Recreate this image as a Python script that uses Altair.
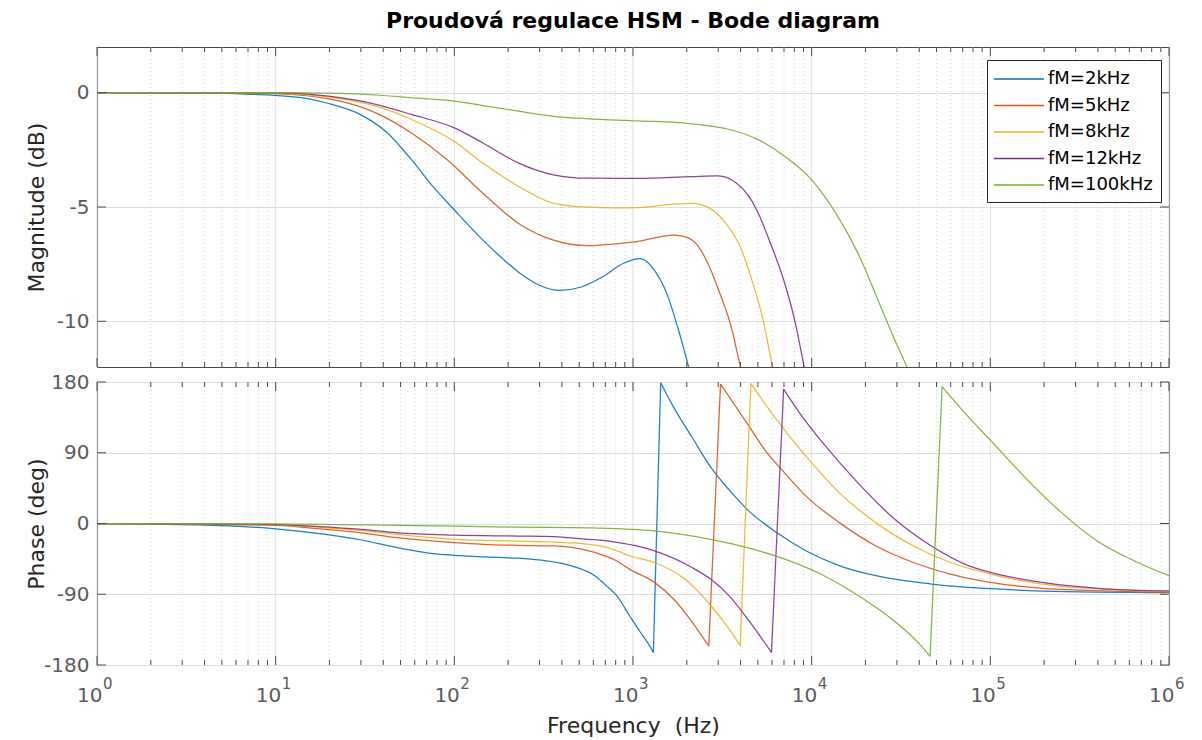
import altair as alt
import pandas as pd

SERIES = ["fM=2kHz", "fM=5kHz", "fM=8kHz", "fM=12kHz", "fM=100kHz"]
COLORS = ["#0072BD", "#D95319", "#EDB120", "#7E2F8E", "#77AC30"]

# ---------------- Magnitude (log10 f [Hz], dB) ----------------
MAG_LOGF_2K = [0, 0.5, 0.8, 1.0, 1.2, 1.28, 1.48, 1.62, 1.76, 1.88, 2.0, 2.16, 2.28, 2.36, 2.47, 2.59, 2.71, 2.83, 2.95, 3.04, 3.12, 3.19, 3.25, 3.31, 3.37]
MAG_DB_2K = [0, -0.01, -0.05, -0.12, -0.29, -0.44, -0.98, -1.72, -2.93, -4.1, -5.13, -6.45, -7.33, -7.85, -8.4, -8.65, -8.5, -8.05, -7.45, -7.26, -7.77, -8.8, -10.26, -11.95, -13.8]

MAG_LOGF_5K = [0, 0.8, 1.0, 1.36, 1.56, 1.76, 1.96, 2.16, 2.36, 2.555, 2.75, 2.814, 3.02, 3.227, 3.29, 3.36, 3.42, 3.48, 3.55, 3.60, 3.66]
MAG_DB_5K = [0, -0.01, -0.04, -0.37, -0.88, -1.76, -2.93, -4.4, -5.72, -6.45, -6.69, -6.67, -6.52, -6.23, -6.3, -6.67, -7.48, -8.65, -10.26, -11.95, -13.8]

MAG_LOGF_8K = [0, 1.0, 1.36, 1.56, 1.76, 2.0, 2.16, 2.36, 2.555, 2.75, 2.91, 3.02, 3.227, 3.33, 3.43, 3.52, 3.60, 3.66, 3.72, 3.78, 3.84]
MAG_DB_8K = [0, -0.03, -0.26, -0.59, -1.17, -2.13, -3.08, -4.1, -4.84, -5.01, -5.04, -5.03, -4.87, -4.84, -5.06, -5.72, -6.74, -8.06, -9.68, -11.95, -14.3]

MAG_LOGF_12K = [0, 1.0, 1.36, 1.56, 1.76, 2.0, 2.16, 2.36, 2.555, 2.75, 3.03, 3.33, 3.475, 3.58, 3.65, 3.71, 3.77, 3.85, 3.91, 3.957, 4.01]
MAG_DB_12K = [0, -0.01, -0.22, -0.51, -0.95, -1.54, -2.2, -3.08, -3.59, -3.74, -3.75, -3.67, -3.64, -3.96, -4.55, -5.43, -6.6, -8.36, -10.12, -11.95, -13.9]

MAG_LOGF_100K = [0, 1.0, 1.36, 1.56, 1.76, 2.0, 2.16, 2.36, 2.555, 2.75, 3.03, 3.33, 3.54, 3.70, 3.85, 4.0, 4.136, 4.26, 4.38, 4.467, 4.53, 4.59]
MAG_DB_100K = [0, 0, -0.03, -0.1, -0.22, -0.37, -0.56, -0.81, -1.03, -1.14, -1.23, -1.36, -1.61, -2.05, -2.79, -3.81, -5.28, -7.04, -9.24, -10.85, -11.95, -13.1]

# ---------------- Phase (log10 f, deg), before (A) and after (B) the wrap ----------------
PH_LOGF_2K_A = [0, 0.56, 1.0, 1.28, 1.48, 1.68, 1.88, 2.0, 2.16, 2.355, 2.515, 2.655, 2.79, 2.85, 2.91, 2.98, 3.04, 3.08, 3.114]
PH_DEG_2K_A = [0, -1.7, -6.7, -13.9, -21, -30.7, -38.3, -40.4, -42.5, -44.2, -47.5, -53.8, -67, -79, -92, -117, -138, -151, -164]
PH_LOGF_2K_B = [3.155, 3.227, 3.33, 3.434, 3.537, 3.64, 3.806, 3.97, 4.157, 4.36, 4.67, 5.0, 5.29, 6.0]
PH_DEG_2K_B = [179, 148, 110, 72, 43, 17.7, -11.8, -35, -53.8, -66.4, -77, -83, -86, -88]

PH_LOGF_5K_A = [0, 0.5, 1.0, 1.28, 1.48, 1.68, 2.0, 2.16, 2.355, 2.555, 2.753, 2.814, 2.912, 2.98, 3.12, 3.227, 3.33, 3.424]
PH_DEG_5K_A = [0, -0.8, -2.5, -7.6, -11.8, -18.1, -24.4, -26.5, -27.8, -28.6, -34.9, -39, -48, -58, -74.9, -96, -125, -156]
PH_LOGF_5K_B = [3.49, 3.64, 3.74, 3.85, 3.97, 4.157, 4.36, 4.57, 4.777, 5.0, 5.29, 6.0]
PH_DEG_5K_B = [177.5, 127, 93, 64, 34.5, 0.8, -28.6, -49.6, -64.3, -74.9, -82.4, -87.5]

PH_LOGF_8K_A = [0, 0.5, 1.0, 1.28, 1.48, 1.68, 2.0, 2.355, 2.555, 2.753, 2.814, 2.912, 2.98, 3.12, 3.29, 3.434, 3.537, 3.6]
PH_DEG_8K_A = [0, -0.6, -1.7, -5.5, -8.8, -13.9, -20.2, -22.3, -23.6, -26.5, -28.6, -34.9, -41, -49.6, -70.7, -104, -134, -155]
PH_LOGF_8K_B = [3.66, 3.74, 3.85, 3.97, 4.157, 4.36, 4.57, 4.777, 5.0, 5.29, 5.6, 6.0]
PH_DEG_8K_B = [178, 152, 118.5, 85, 38.7, 0.8, -28.6, -49.6, -64.3, -77, -83, -86.6]

PH_LOGF_12K_A = [0, 0.5, 1.0, 1.28, 1.48, 1.68, 2.0, 2.355, 2.555, 2.753, 2.814, 2.912, 3.02, 3.12, 3.33, 3.434, 3.537, 3.64, 3.72, 3.775]
PH_DEG_12K_A = [0, -0.4, -1.3, -4.2, -7.6, -11.8, -14.7, -16, -16.8, -20.2, -21, -24, -28.6, -34.9, -56, -70.7, -91.7, -121, -146, -164]
PH_LOGF_12K_B = [3.843, 3.95, 4.05, 4.26, 4.467, 4.67, 4.88, 5.0, 5.29, 5.6, 6.0]
PH_DEG_12K_B = [171, 135, 106, 51.3, 5, -28.6, -53.8, -62.2, -74.9, -82.4, -85.8]

PH_LOGF_100K_A = [0, 1.0, 1.48, 2.0, 2.355, 2.753, 3.09, 3.434, 3.64, 3.85, 4.05, 4.26, 4.467, 4.59, 4.663]
PH_DEG_100K_A = [0, -0.4, -1.7, -3.4, -4.6, -5.5, -8.8, -20.2, -30.7, -45.4, -64.3, -91.7, -125, -150, -169]
PH_LOGF_100K_B = [4.73, 4.88, 5.0, 5.19, 5.4, 5.6, 5.81, 6.0]
PH_DEG_100K_B = [174, 135, 106, 59.7, 13.5, -22.5, -48, -66.4]

# ---------------- Axis ticks ----------------
X_MAJOR = [1, 10, 100, 1000, 10000, 100000, 1000000]
X_EXPONENTS = ["0", "1", "2", "3", "4", "5", "6"]
X_MINOR = [m * 10 ** k for k in range(6) for m in range(2, 10)]
MAG_TICKS = [-10, -5, 0]
PH_TICKS = [-180, -90, 0, 90, 180]

# ---------------- Build tables ----------------
mag_sets = [(MAG_LOGF_2K, MAG_DB_2K), (MAG_LOGF_5K, MAG_DB_5K), (MAG_LOGF_8K, MAG_DB_8K),
            (MAG_LOGF_12K, MAG_DB_12K), (MAG_LOGF_100K, MAG_DB_100K)]
ph_sets = [(PH_LOGF_2K_A, PH_DEG_2K_A, PH_LOGF_2K_B, PH_DEG_2K_B),
           (PH_LOGF_5K_A, PH_DEG_5K_A, PH_LOGF_5K_B, PH_DEG_5K_B),
           (PH_LOGF_8K_A, PH_DEG_8K_A, PH_LOGF_8K_B, PH_DEG_8K_B),
           (PH_LOGF_12K_A, PH_DEG_12K_A, PH_LOGF_12K_B, PH_DEG_12K_B),
           (PH_LOGF_100K_A, PH_DEG_100K_A, PH_LOGF_100K_B, PH_DEG_100K_B)]

mag_rows = []
for s, (lf, db) in zip(SERIES, mag_sets):
    for a, b in zip(lf, db):
        mag_rows.append({"series": s, "f": 10 ** a, "v": b})
mag_df = pd.DataFrame(mag_rows)

ph_rows = []
for s, (la, da, lb, dbb) in zip(SERIES, ph_sets):
    for a, b in zip(la, da):
        ph_rows.append({"series": s, "seg": "a", "f": 10 ** a, "v": b})
    ph_rows.append({"series": s, "seg": "j", "f": 10 ** la[-1], "v": da[-1]})
    ph_rows.append({"series": s, "seg": "j", "f": 10 ** lb[0], "v": dbb[0]})
    for a, b in zip(lb, dbb):
        ph_rows.append({"series": s, "seg": "b", "f": 10 ** a, "v": b})
ph_df = pd.DataFrame(ph_rows)

major_df = pd.DataFrame({"f": X_MAJOR, "e": X_EXPONENTS})
minor_df = pd.DataFrame({"f": X_MINOR})

W = 1072
H_TOP = 320
H_BOT = 283
FONT = "DejaVu Sans"
FRAME = "#4a4a4a"
LABEL_COLOR = "#5a5a5a"
GRID = "#dedede"

xscale = alt.Scale(type="log", domain=[1, 1e6], nice=False)
color_scale = alt.Scale(domain=SERIES, range=COLORS)


def panel(df, yticks, ydomain, height, title, detail, xaxis, legend, title_y):
    yscale = alt.Scale(domain=ydomain, nice=False, zero=False)
    yaxis = alt.Axis(values=yticks, grid=True, gridColor=GRID, ticks=False, domain=False,
                     labelExpr="datum.value + ''", labelFontSize=20, labelColor=LABEL_COLOR,
                     labelPadding=8, title=title, titleFontSize=22, titleFontWeight="normal",
                     titleColor="#262626", titleX=-54, titleY=title_y, titleBaseline="alphabetic")
    xenc = alt.X("f:Q", scale=xscale, axis=xaxis)
    minor = alt.Chart(minor_df).mark_rule(color="#d6d6d6", strokeDash=[1, 3], strokeWidth=1).encode(x=xenc)
    major = alt.Chart(major_df).mark_rule(color=GRID, strokeWidth=1).encode(x=xenc)
    enc = dict(x=xenc,
               y=alt.Y("v:Q", scale=yscale, axis=yaxis),
               color=alt.Color("series:N", scale=color_scale, legend=legend))
    if detail:
        enc["detail"] = "seg:N"
    lines = alt.Chart(df).mark_line(strokeWidth=1.25, strokeOpacity=0.9, interpolate="monotone",
                                    clip=True).encode(**enc)
    tk = []
    for d, ln in ((major_df, 9), (minor_df, 5)):
        tk.append(alt.Chart(d).mark_rule(color=FRAME, strokeWidth=1).encode(
            x=xenc, y=alt.value(0), y2=alt.value(ln)))
        tk.append(alt.Chart(d).mark_rule(color=FRAME, strokeWidth=1).encode(
            x=xenc, y=alt.value(height - ln), y2=alt.value(height)))
    ytick_df = pd.DataFrame({"v": yticks})
    yenc = alt.Y("v:Q", scale=yscale, axis=yaxis)
    tk.append(alt.Chart(ytick_df).mark_rule(color=FRAME, strokeWidth=1).encode(
        y=yenc, x=alt.value(0), x2=alt.value(9)))
    tk.append(alt.Chart(ytick_df).mark_rule(color=FRAME, strokeWidth=1).encode(
        y=yenc, x=alt.value(W - 9), x2=alt.value(W)))
    return [minor, major, lines] + tk


legend = alt.Legend(title=None, orient="none", legendX=890, legendY=13, fillColor="white",
                    strokeColor="#262626", padding=8, symbolType="M-2.5,0H2.5", symbolSize=400,
                    symbolOffset=13, symbolStrokeWidth=1.5,
                    labelFontSize=18, labelFont=FONT, labelColor="black",
                    labelOffset=18, rowPadding=6.5)

top_layers = panel(mag_df, MAG_TICKS, [-12, 2], H_TOP, "Magnitude (dB)", False, None, legend, H_TOP / 2)
top = alt.layer(*top_layers).properties(
    width=W, height=H_TOP,
    title=alt.TitleParams("Proudová regulace HSM - Bode diagram", fontSize=22, fontWeight="bold",
                          font=FONT, anchor="middle", frame="group", offset=14, color="black"))

xaxis_bot = alt.Axis(values=X_MAJOR, labelExpr="'10'", labelFontSize=20, labelColor=LABEL_COLOR,
                     labelAlign="right", labelOffset=5, labelBaseline="top", labelPadding=20,
                     labelFlush=False, labelOverlap=False, labelBound=False,
                     ticks=False, tickSize=0, domain=False, grid=False,
                     title="Frequency\u00a0 (Hz)", titleFontSize=22, titleFontWeight="normal",
                     titleColor="#262626", titleY=67, titleBaseline="alphabetic")
bot_layers = panel(ph_df, PH_TICKS, [-180, 180], H_BOT, "Phase (deg)", True, xaxis_bot, None, H_BOT / 2)
exps = alt.Chart(major_df).mark_text(align="left", baseline="top", dx=6, fontSize=15,
                                     color=LABEL_COLOR, font=FONT).encode(
    x=alt.X("f:Q", scale=xscale, axis=xaxis_bot), y=alt.value(H_BOT + 12), text="e:N")
bottom = alt.layer(*bot_layers, exps).properties(width=W, height=H_BOT)

chart = alt.vconcat(top, bottom, spacing=3).resolve_legend(color="independent").properties(
    padding={"left": 24, "top": 9, "right": 10, "bottom": 0}
).configure(font=FONT).configure_view(stroke=FRAME, strokeWidth=1)

chart.save("out.html", embed_options={"renderer": "svg", "actions": False})
